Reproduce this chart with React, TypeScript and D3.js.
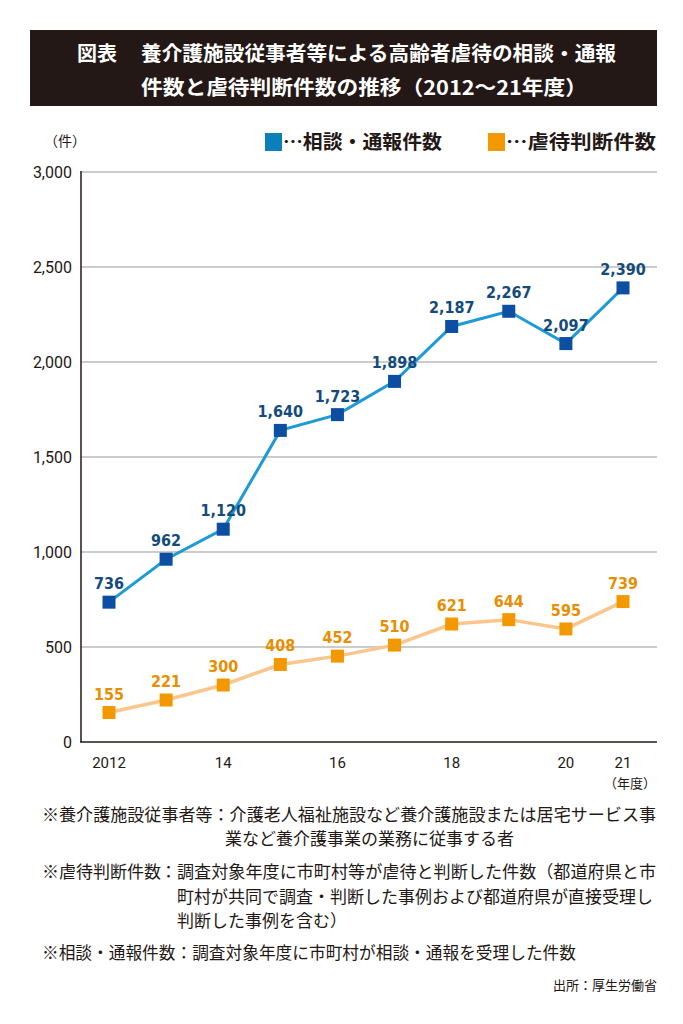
import React from "react";
import * as d3 from "d3";

const years = [2012, 2013, 2014, 2015, 2016, 2017, 2018, 2019, 2020, 2021];
const consultCounts = [736, 962, 1120, 1640, 1723, 1898, 2187, 2267, 2097, 2390];
const abuseCounts = [155, 221, 300, 408, 452, 510, 621, 644, 595, 739];
const xTickYears = [2012, 2014, 2016, 2018, 2020, 2021];
const xTickLabels = ["2012", "14", "16", "18", "20", "21"];
const yTicks = [0, 500, 1000, 1500, 2000, 2500, 3000];
const titleLines = ["養介護施設従事者等による高齢者虐待の相談・通報", "件数と虐待判断件数の推移（2012～21年度）"];
const legendLabels = ["…相談・通報件数", "…虐待判断件数"];

const JP = "'Noto Sans CJK JP', 'Noto Sans', sans-serif";
const NUM = "'Liberation Sans Narrow', 'DejaVu Sans Condensed', Roboto, sans-serif";
const NUM2 = "Roboto, 'Liberation Sans', sans-serif";

export default function App() {
  const W = 683, H = 1024;
  const x = d3.scaleLinear().domain([2012, 2021]).range([109, 623]);
  const y = d3.scaleLinear().domain([0, 3000]).range([742, 172]);
  const line = d3.line<number>().x((_, i) => x(years[i])).y((d) => y(d));
  const fmt = d3.format(",");
  const blueLine = "#1e9ad6";
  const blueMark = "#0b4ea2";
  const blueText = "#134b7d";
  const orLine = "#fbc68c";
  const orMark = "#f39800";
  const orText = "#e88e00";
  const ms = 13;

  return (
    <svg width={W} height={H} style={{ position: "absolute", left: 0, top: 0, background: "#fff" }}>
      <rect x={0} y={0} width={W} height={H} fill="#fff" />
      {/* title */}
      <rect x={30} y={30} width={627} height={76} fill="#231815" />
      <text x={77} y={61} fill="#fff" fontFamily={JP} fontWeight={700} fontSize={20}>図表</text>
      <text x={141} y={61} fill="#fff" fontFamily={JP} fontWeight={700} fontSize={20} textLength={475} lengthAdjust="spacingAndGlyphs">{titleLines[0]}</text>
      <text x={141} y={95} fill="#fff" fontFamily={JP} fontWeight={700} fontSize={20} textLength={446} lengthAdjust="spacingAndGlyphs">{titleLines[1]}</text>

      {/* unit + legend */}
      <text x={44} y={146} fill="#231815" fontFamily={JP} fontSize={14}>（件）</text>
      <rect x={265} y={133} width={17} height={18} fill="#0a7fb9" />
      <text x={283} y={149} fill="#231815" fontFamily={JP} fontWeight={700} fontSize={19} textLength={159} lengthAdjust="spacingAndGlyphs">{legendLabels[0]}</text>
      <rect x={488} y={133} width={17} height={18} fill="#f39800" />
      <text x={506} y={149} fill="#231815" fontFamily={JP} fontWeight={700} fontSize={19} textLength={150} lengthAdjust="spacingAndGlyphs">{legendLabels[1]}</text>

      {/* grid */}
      {yTicks.map((t) => (
        <g key={t}>
          {t > 0 && <line x1={81} x2={657} y1={y(t)} y2={y(t)} stroke="#9a9a9a" strokeWidth={1.2} />}
          <text x={72} y={y(t) + 6} textAnchor="end" fill="#231815" fontFamily={NUM2} fontSize={16}>{fmt(t)}</text>
        </g>
      ))}
      <line x1={81} x2={81} y1={171} y2={742} stroke="#231815" strokeWidth={1.5} />
      <line x1={80} x2={657} y1={742} y2={742} stroke="#231815" strokeWidth={1.5} />
      {xTickYears.map((yr, i) => (
        <text key={yr} x={x(yr)} y={768} textAnchor="middle" fill="#231815" fontFamily={NUM2} fontSize={15}>{xTickLabels[i]}</text>
      ))}
      <text x={630} y={788} textAnchor="middle" fill="#231815" fontFamily={JP} fontSize={13}>（年度）</text>

      {/* lines */}
      <path d={line(abuseCounts) || ""} fill="none" stroke={orLine} strokeWidth={3.5} />
      <path d={line(consultCounts) || ""} fill="none" stroke={blueLine} strokeWidth={3} />
      {abuseCounts.map((v, i) => (
        <g key={"a" + i}>
          <rect x={x(years[i]) - ms / 2} y={y(v) - ms / 2} width={ms} height={ms} fill={orMark} />
          <text x={x(years[i])} y={y(v) - 13} textAnchor="middle" fill={orText} fontFamily={NUM} fontWeight={700} fontSize={16}>{fmt(v)}</text>
        </g>
      ))}
      {consultCounts.map((v, i) => (
        <g key={"c" + i}>
          <rect x={x(years[i]) - ms / 2} y={y(v) - ms / 2} width={ms} height={ms} fill={blueMark} />
          <text x={x(years[i])} y={y(v) - 13} textAnchor="middle" fill={blueText} fontFamily={NUM} fontWeight={700} fontSize={16}>{fmt(v)}</text>
        </g>
      ))}

      {/* footnotes */}
      <g fill="#231815" fontFamily={JP} fontSize={17}>
        <text x={42} y={821} textLength={614} lengthAdjust="spacingAndGlyphs">※養介護施設従事者等：介護老人福祉施設など養介護施設または居宅サービス事</text>
        <text x={225} y={845}>業など養介護事業の業務に従事する者</text>
        <text x={42} y={878}>※虐待判断件数</text>
        <text x={160} y={878}>：</text>
        <text x={177} y={878} textLength={479} lengthAdjust="spacingAndGlyphs">調査対象年度に市町村等が虐待と判断した件数（都道府県と市</text>
        <text x={177} y={903}>町村が共同で調査・判断した事例および都道府県が直接受理し</text>
        <text x={177} y={927}>判断した事例を含む）</text>
        <text x={42} y={959} textLength={534} lengthAdjust="spacingAndGlyphs">※相談・通報件数：調査対象年度に市町村が相談・通報を受理した件数</text>
      </g>
      <text x={657} y={990} textAnchor="end" fill="#231815" fontFamily={JP} fontSize={13}>出所：厚生労働省</text>
    </svg>
  );
}
